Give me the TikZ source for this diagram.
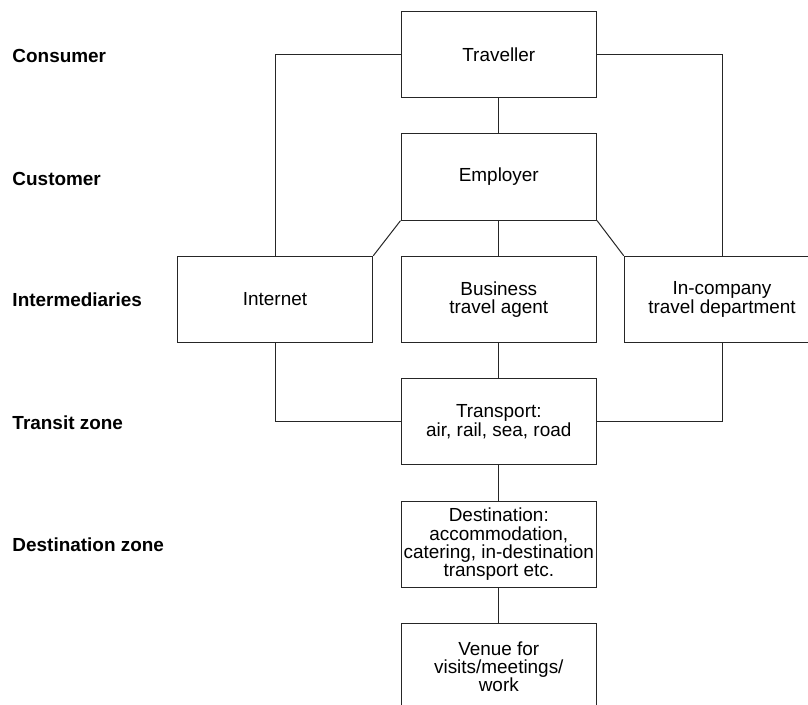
\documentclass[tikz,border=0pt]{standalone}
\usepackage{fontspec}
\setmainfont{Liberation Sans}
\begin{document}
\begin{tikzpicture}[x=1bp,y=-1bp,
  every node/.style={inner sep=0pt},
  box/.style={draw=black!85, line width=1bp, minimum width=195.5bp, minimum height=86.4bp,
    align=center, font=\fontsize{19}{18.3}\selectfont},
  conn/.style={draw=black!85, line width=1bp},
  rowlabel/.style={anchor=base west, font=\fontsize{19}{21}\selectfont\bfseries}]
\useasboundingbox (0,0) rectangle (808,705);
\clip (0,0) rectangle (808,705);
% row labels
\node[rowlabel] (lconsumer) at (12.3,62.3) {Consumer};
\node[rowlabel] (lcustomer) at (12.3,185.7) {Customer};
\node[rowlabel] (linter) at (12.3,306) {Intermediaries};
\node[rowlabel] (ltransit) at (12.3,429) {Transit zone};
\node[rowlabel] (ldest) at (12.3,551) {Destination zone};
% boxes
\node[box] (trav) at (498.8,54.5) {Traveller};
\node[box] (empl) at (498.8,176.9) {Employer};
\node[box] (inet) at (275,299.5) {Internet};
\node[box] (bta) at (498.8,299.5) {Business\\travel agent};
\node[box] (itd) at (722,299.5) {In-company\\travel department};
\node[box] (trans) at (498.8,421.7) {Transport:\\air, rail, sea, road};
\node[box] (dest) at (498.8,544.3) {Destination:\\accommodation,\\catering, in-destination\\transport etc.};
\node[box] (venue) at (498.8,666.5) {Venue for\\visits/meetings/\\work};
% connectors
\draw[conn] (trav.west) -| (inet.north);
\draw[conn] (trav.east) -| (itd.north);
\draw[conn] (trav.south) -- (empl.north);
\draw[conn] (empl.south) -- (bta.north);
\draw[conn] (empl.south west) -- (inet.north east);
\draw[conn] (empl.south east) -- (itd.north west);
\draw[conn] (inet.south) |- (trans.west);
\draw[conn] (itd.south) |- (trans.east);
\draw[conn] (bta.south) -- (trans.north);
\draw[conn] (trans.south) -- (dest.north);
\draw[conn] (dest.south) -- (venue.north);
\end{tikzpicture}
\end{document}
